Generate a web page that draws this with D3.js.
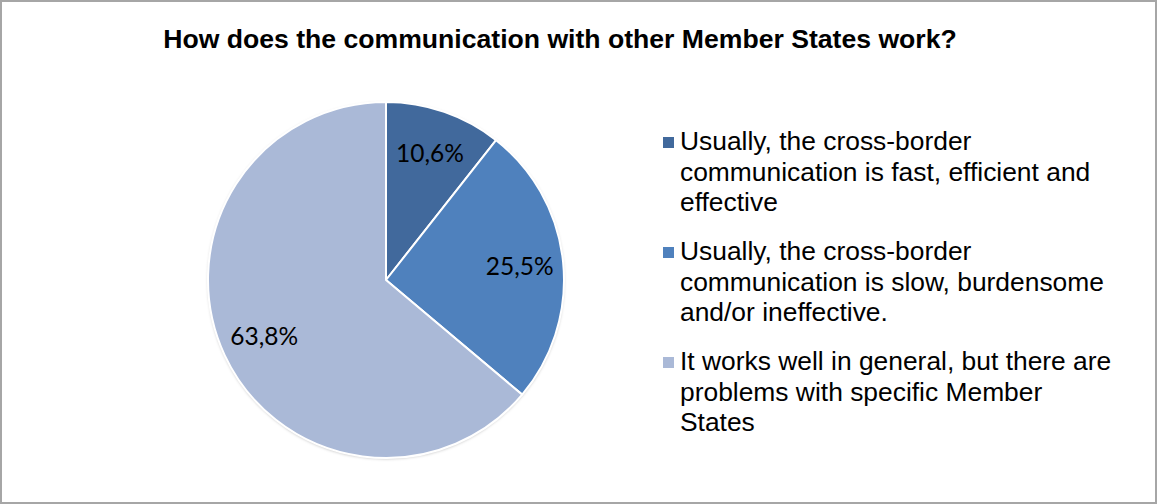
<!DOCTYPE html>
<html>
<head>
<meta charset="utf-8">
<script src="https://cdn.jsdelivr.net/npm/d3@7"></script>
<style>
  body { margin: 0; background: #fff; }
  svg { display: block; }
</style>
</head>
<body>
<div id="chartContainer"></div>
<script>
// chart data
const TITLE = "How does the communication with other Member States work?";
const categories = [
    "Usually, the cross-border communication is fast, efficient and effective",
    "Usually, the cross-border communication is slow, burdensome and/or ineffective.",
    "It works well in general, but there are problems with specific Member States"
];
// legend text as it wraps in the picture
const legendLines = [
    ["Usually, the cross-border", "communication is fast, efficient and", "effective"],
    ["Usually, the cross-border", "communication is slow, burdensome", "and/or ineffective."],
    ["It works well in general, but there are", "problems with specific Member", "States"]
];
const shares = [10.6, 25.5, 63.8];
const shareLabels = ["10,6%", "25,5%", "63,8%"];
const colors = ["#41699c", "#4f81bd", "#aab9d7"];

// layout
let BOX_WIDTH = 1157;
let BOX_HEIGHT = 504;
let CX = 386;
let CY = 280;
let RADIUS = 178;
let LEGEND_X = 663;
let LEGEND_Y = 150;   // baseline of first legend line
let LINE_H = 30.5;
let ITEM_H = 110;

const svg = d3.select("#chartContainer")
    .append("svg")
    .attr("width", BOX_WIDTH)
    .attr("height", BOX_HEIGHT);

// frame
svg.append("rect")
    .attr("x", 1)
    .attr("y", 1)
    .attr("width", BOX_WIDTH - 2)
    .attr("height", BOX_HEIGHT - 2)
    .attr("fill", "#fff")
    .attr("stroke", "#a6a6a6")
    .attr("stroke-width", 2);

// title
svg.append("text")
    .attr("x", 560)
    .attr("y", 48)
    .attr("text-anchor", "middle")
    .attr("font-family", "Liberation Sans, Arial, sans-serif")
    .attr("font-weight", "bold")
    .attr("font-size", 26.6)
    .attr("fill", "#000")
    .text(TITLE);

// soft shadow under the pie
const defs = svg.append("defs");
const filt = defs.append("filter")
    .attr("id", "shadow")
    .attr("x", "-10%").attr("y", "-10%")
    .attr("width", "120%").attr("height", "120%");
filt.append("feDropShadow")
    .attr("dx", 0).attr("dy", 1)
    .attr("stdDeviation", 1.5)
    .attr("flood-color", "#000")
    .attr("flood-opacity", 0.25);

const pie = d3.pie().sort(null).value(d => d);
const arcs = pie(shares);

const arc = d3.arc().innerRadius(0).outerRadius(RADIUS);
const labelArc = d3.arc().innerRadius(RADIUS * 0.755).outerRadius(RADIUS * 0.755);

const g = svg.append("g")
    .attr("transform", `translate(${CX}, ${CY})`);

g.append("circle")
    .attr("r", RADIUS)
    .attr("fill", "#fff")
    .attr("filter", "url(#shadow)");

g.selectAll("path.slice")
    .data(arcs)
    .enter()
    .append("path")
    .attr("class", "slice")
    .attr("d", arc)
    .attr("fill", (d, i) => colors[i])
    .attr("stroke", "#fff")
    .attr("stroke-width", 2)
    .attr("stroke-linejoin", "round");

g.selectAll("text.lbl")
    .data(arcs)
    .enter()
    .append("text")
    .attr("class", "lbl")
    .attr("transform", d => `translate(${labelArc.centroid(d)})`)
    .attr("text-anchor", "middle")
    .attr("dy", "0.35em")
    .attr("font-family", "Lato, Carlito, Calibri, sans-serif")
    .attr("font-size", 24.5)
    .attr("fill", "#000")
    .text((d, i) => shareLabels[i]);

// legend
const legend = svg.append("g")
    .attr("transform", `translate(${LEGEND_X}, ${LEGEND_Y})`);

const items = legend.selectAll("g.item")
    .data(categories)
    .enter()
    .append("g")
    .attr("class", "item")
    .attr("transform", (d, i) => `translate(0, ${i * ITEM_H})`);

items.append("rect")
    .attr("x", 0)
    .attr("y", -13)
    .attr("width", 11)
    .attr("height", 11)
    .attr("fill", (d, i) => colors[i]);

items.append("text")
    .attr("x", 17)
    .attr("y", 0)
    .attr("font-family", "Liberation Sans, Arial, sans-serif")
    .attr("font-size", 26.4)
    .attr("fill", "#000")
    .selectAll("tspan")
    .data((d, i) => legendLines[i])
    .enter()
    .append("tspan")
    .attr("x", 17)
    .attr("dy", (d, j) => j === 0 ? 0 : LINE_H)
    .text(d => d);
</script>
</body>
</html>
